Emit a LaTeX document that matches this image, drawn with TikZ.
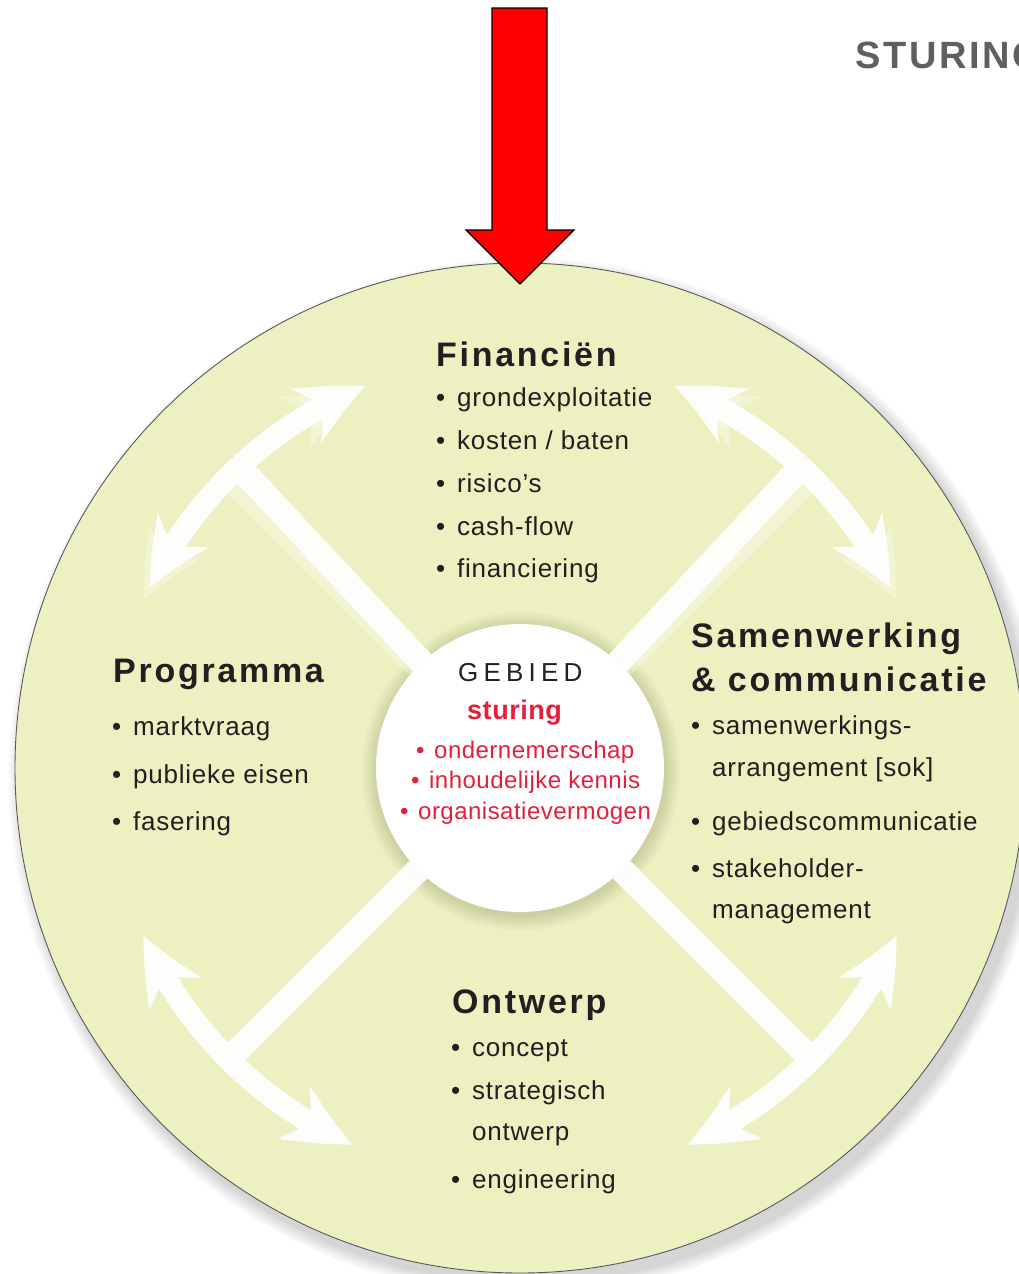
\documentclass[tikz,border=0pt]{standalone}
\usepackage{fontspec}
\setmainfont{Liberation Sans}
\newfontfamily\hdfont{Liberation Sans}[LetterSpace=8]
\newfontfamily\bodyfont{Liberation Sans}[LetterSpace=3]
\newfontfamily\redfont{Liberation Sans}[LetterSpace=2]
\newfontfamily\gebfont{Liberation Sans}[LetterSpace=20]
\newfontfamily\stfont{Liberation Sans}[LetterSpace=7]
\usetikzlibrary{arrows.meta,bending}
\definecolor{bigfill}{RGB}{237,240,193}
\definecolor{txt}{RGB}{35,31,32}
\definecolor{redtxt}{RGB}{228,30,60}
\definecolor{stgray}{RGB}{95,95,95}
\newcommand\blt[1]{\llap{\makebox[21pt][l]{•}}#1}
\newcommand\rblt[1]{\llap{\makebox[18pt][l]{•}}#1}
\tikzset{
  heading/.style={anchor=base west,inner sep=0,text=txt,font=\hdfont\bfseries\fontsize{34}{34}\selectfont},
  item/.style={anchor=base west,inner sep=0,text=txt,font=\bodyfont\fontsize{26}{26}\selectfont},
  reditem/.style={anchor=base west,inner sep=0,text=redtxt,font=\redfont\fontsize{24}{24}\selectfont},
  wshaft/.style={draw=white,line width=25pt},
  warc/.style={draw=white,line width=22pt,
    {Stealth[length=66pt,width=60pt,inset=20pt,bend]}-{Stealth[length=66pt,width=60pt,inset=20pt,bend]}},
}
\newcommand\warrow[2]{% angle, opacity
  \begin{scope}[opacity=#2]
  \draw[wshaft] (C) -- ([shift={(#1:405)}]C);
  \draw[warc] ([shift={(#1-21:412)}]C) arc[start angle=#1-21, end angle=#1+21, radius=412];
  \end{scope}
}
\begin{document}
\begin{tikzpicture}[x=1pt,y=-1pt]
\useasboundingbox (0,0) rectangle (1018,1274);
\fill[white] (0,0) rectangle (1018,1274);
\coordinate (C) at (520,768);
% drop shadow of big circle
\foreach \i in {1,...,14}{
  \fill[black,opacity=0.011] ([shift={(7,9)}]C) circle ({505+\i});
}
\fill[bigfill] (C) circle (505);
\draw[black!65,line width=0.9pt] (C) circle (505);
% shadow ring around the white centre
\foreach \i in {1,...,16}{
  \fill[black!40!olive,opacity=0.012] ([shift={(1,3)}]C) circle ({144+\i});
}
% white arrows: ghosts then main
\begin{scope}[shift={(12,-10)}]
\warrow{225}{0.3}
\warrow{315}{0.3}
\warrow{45}{0.3}
\warrow{135}{0.3}
\end{scope}
\warrow{227}{0.92}
\warrow{313}{0.92}
\warrow{45}{0.92}
\warrow{135}{0.92}
% centre circle
\fill[white] (C) circle (144);
% red arrow
\draw[fill=red,draw=black,line width=1.2pt,line join=miter]
  (492,8) -- (547,8) -- (547,230) -- (574,230) -- (520,284) -- (466,230) -- (492,230) -- cycle;
% STURING (cut off at the right edge, as in the reference)
\node[anchor=base west,inner sep=0,text=stgray,font=\stfont\bfseries\fontsize{38}{38}\selectfont] (sturing) at (855,68) {STURING};
% Financien
\node[heading] (fin) at (436,366) {Financiën};
\node[item] (f1) at (457,406) {\blt{grondexploitatie}};
\node[item] (f2) at (457,449) {\blt{kosten / baten}};
\node[item] (f3) at (457,492) {\blt{risico’s}};
\node[item] (f4) at (457,535) {\blt{cash-flow}};
\node[item] (f5) at (457,577) {\blt{financiering}};
% Programma
\node[heading] (prog) at (113,682) {Programma};
\node[item] (p1) at (133,735) {\blt{marktvraag}};
\node[item] (p2) at (133,783) {\blt{publieke eisen}};
\node[item] (p3) at (133,830) {\blt{fasering}};
% Samenwerking
\node[heading] (sam1) at (691,647) {Samenwerking};
\node[heading] (sam2) at (691,691) {\& communicatie};
\node[item] (s1) at (712,734) {\blt{samenwerkings-}};
\node[item] (s2) at (712,776) {arrangement [sok]};
\node[item] (s3) at (712,830) {\blt{gebiedscommunicatie}};
\node[item] (s4) at (712,877) {\blt{stakeholder-}};
\node[item] (s5) at (712,918) {management};
% Ontwerp
\node[heading] (ont) at (452,1013) {Ontwerp};
\node[item] (o1) at (472,1056) {\blt{concept}};
\node[item] (o2) at (472,1099) {\blt{strategisch}};
\node[item] (o3) at (472,1140) {ontwerp};
\node[item] (o4) at (472,1188) {\blt{engineering}};
% centre text
\node[anchor=base west,inner sep=0,text=txt,font=\gebfont\fontsize{26}{26}\selectfont] (geb) at (458,681) {GEBIED};
\node[anchor=base west,inner sep=0,text=redtxt,font=\redfont\bfseries\fontsize{27}{27}\selectfont] (stu) at (467,719) {sturing};
\node[reditem] (r1) at (434,758) {\rblt{ondernemerschap}};
\node[reditem] (r2) at (429,788) {\rblt{inhoudelijke kennis}};
\node[reditem] (r3) at (418,819) {\rblt{organisatievermogen}};
\end{tikzpicture}
\end{document}
